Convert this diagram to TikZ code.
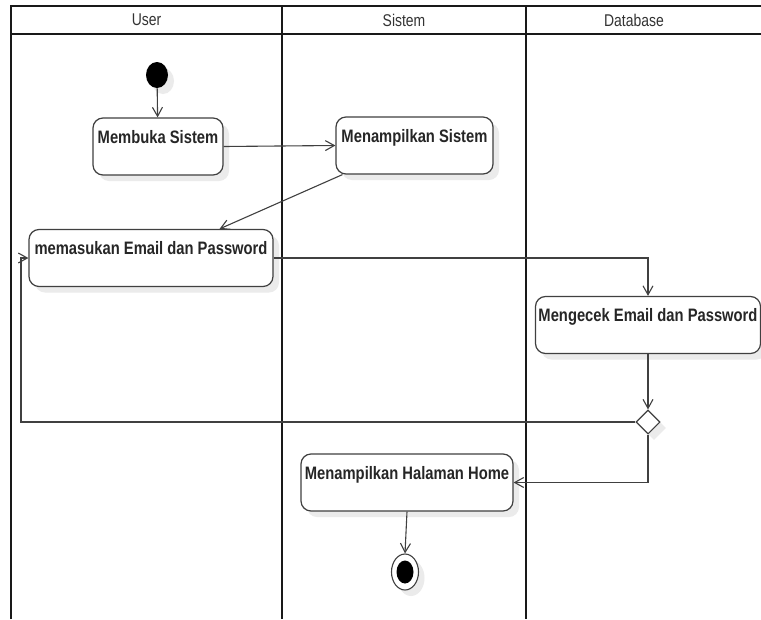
\documentclass[tikz,border=0pt]{standalone}
\usepackage{fontspec}
\setmainfont{Liberation Sans}[FakeStretch=0.82]
\usetikzlibrary{arrows.meta,shapes.geometric,shadows}
\begin{document}
\begin{tikzpicture}[x=1pt,y=-1pt,
  lane/.style={line width=2.2pt, draw=black!90},
  shad/.style={drop shadow={shadow xshift=6pt, shadow yshift=-6pt, fill=black!8, opacity=1}},
  act/.style={draw=black!75, line width=1.2pt, rounded corners=10pt, fill=white,
    inner xsep=3pt, inner ysep=3pt, text height=22pt, text depth=29pt,
    font=\fontsize{18}{21}\selectfont\bfseries, text=black!85, shad},
  conn/.style={draw=black!75, line width=1.1pt, -{Straight Barb[length=9pt,width=10pt]}},
  hdr/.style={font=\fontsize{17}{20}\selectfont, text=black!80, inner sep=0pt},
]
\useasboundingbox (0,0) rectangle (761,619);
\fill[white] (0,0) rectangle (761,619);

% swimlanes
\draw[lane] (11,619) -- (11,6) -- (761,6);
\draw[lane] (11,34) -- (761,34);
\draw[lane] (282,6) -- (282,619);
\draw[lane] (526,6) -- (526,619);
\node[hdr] (hUser) at (146.5,20) {User};
\node[hdr] (hSistem) at (404,20) {Sistem};
\node[hdr] (hDb) at (634,20) {Database};

% nodes
\node[ellipse, fill=black, minimum width=22pt, minimum height=26pt, inner sep=0pt, shad] (init) at (157,75) {};
\node[act, minimum width=130pt] (memb) at (158,146.5) {Membuka Sistem};
\node[act, minimum width=157pt] (sis) at (414.5,145.5) {Menampilkan Sistem};
\node[act, minimum width=244pt] (mem) at (151,258) {memasukan Email dan Password};
\node[act, minimum width=224pt] (cek) at (648,325) {Mengecek Email dan Password};
\node[diamond, draw=black!75, line width=1.1pt, fill=white, minimum width=24pt, minimum height=24pt, inner sep=0pt, shad] (dec) at (648,422) {};
\node[act, minimum width=212pt] (hal) at (407,482.5) {Menampilkan Halaman Home};
\node[ellipse, draw=black!75, line width=1.1pt, fill=white, minimum width=27pt, minimum height=36pt, inner sep=0pt, shad] (fin) at (405,572) {};
\node[ellipse, fill=black, minimum width=17pt, minimum height=23pt, inner sep=0pt] (finin) at (fin.center) {};

% connectors
\coordinate (c2) at (21,422);
\coordinate (c3) at (21,258);
\draw[conn] (init) -- (memb);
\draw[conn] (memb.east) -- (sis.west);
\draw[conn] (sis.202) -- (mem.23);
\draw[conn] (mem.east) -| (cek.north);
\draw[conn] (cek.south) -- (dec.north);
\draw[conn] (dec.west) -- (c2) -- (c3) -- (mem.west);
\draw[conn] (dec.south) |- (hal.east);
\draw[conn] (hal.south) -- (fin.north);
\end{tikzpicture}
\end{document}
